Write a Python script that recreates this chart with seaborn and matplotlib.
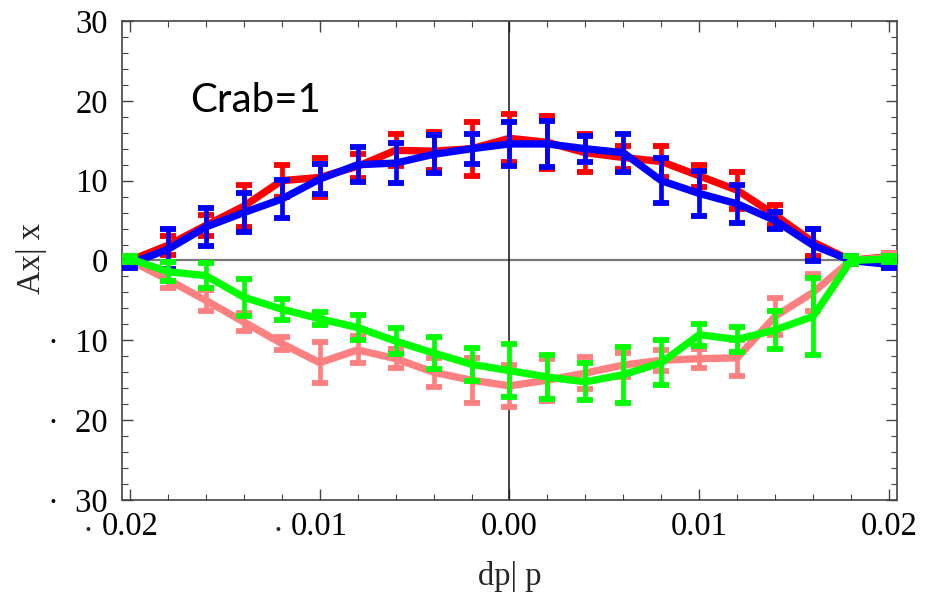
import numpy as np
import pandas as pd
import matplotlib
matplotlib.use("Agg")
import matplotlib.pyplot as plt
import seaborn as sns
from matplotlib.ticker import MultipleLocator, FixedLocator

# ---- data ----
dp = [-0.020, -0.018, -0.016, -0.014, -0.012, -0.010, -0.008, -0.006, -0.004, -0.002,
      0.000, 0.002, 0.004, 0.006, 0.008, 0.010, 0.012, 0.014, 0.016, 0.018, 0.020]

red_y = [0.0, 1.9, 4.4, 6.8, 10.0, 10.4, 11.8, 13.8, 13.7, 14.0, 15.3,
         14.8, 13.5, 12.9, 12.4, 10.6, 8.8, 5.7, 2.3, 0.0, 0.5]
red_err = [0.5, 1.2, 1.3, 2.6, 2.0, 2.4, 1.5, 2.0, 2.4, 3.4, 3.0,
           3.3, 2.4, 1.5, 2.0, 1.4, 2.3, 1.3, 1.7, 0.5, 0.5]

blue_y = [-0.4, 1.4, 4.2, 6.0, 7.7, 10.2, 12.0, 12.2, 13.3, 14.0, 14.6,
          14.6, 14.0, 13.5, 10.0, 8.4, 7.1, 5.0, 1.9, 0.0, -0.5]
blue_err = [0.5, 2.5, 2.4, 2.4, 2.4, 1.9, 2.2, 2.5, 2.4, 1.9, 2.8,
            2.9, 1.6, 2.4, 2.8, 2.8, 2.4, 1.1, 2.0, 0.5, 0.4]

pink_y = [0.0, -2.4, -5.0, -7.7, -10.4, -12.8, -11.2, -12.3, -14.0, -15.0, -15.7,
          -15.0, -14.1, -13.1, -12.5, -12.3, -12.2, -7.0, -4.0, 0.0, 0.4]
pink_err = [0.5, 1.0, 1.3, 1.1, 0.8, 2.6, 1.7, 1.2, 1.8, 2.8, 2.6,
            2.6, 2.0, 1.5, 1.3, 1.2, 2.3, 2.3, 2.3, 0.5, 0.5]

green_y = [0.2, -1.4, -1.9, -4.6, -6.1, -7.3, -8.4, -10.1, -11.6, -13.0, -13.8,
           -14.6, -15.2, -14.3, -12.8, -9.3, -9.9, -8.7, -7.0, 0.0, 0.2]
green_err = [0.4, 1.2, 1.6, 2.3, 1.3, 0.8, 1.6, 1.6, 2.0, 2.1, 3.3,
             2.8, 2.3, 3.5, 2.8, 1.4, 1.6, 2.4, 4.8, 0.5, 0.4]

x_ticks = [-0.02, -0.01, 0.0, 0.01, 0.02]
x_ticklabels = ["0.02", "0.01", "0.00", "0.01", "0.02"]
y_ticks = [-30, -20, -10, 0, 10, 20, 30]
y_ticklabels = ["·  30", "·  20", "·  10", "0", "10", "20", "30"]
annotation = "Crab=1"
xlabel = "dp| p"
ylabel = "Ax| x"

series = [
    ("red", red_y, red_err, "#ff0000"),
    ("pink", pink_y, pink_err, "#ff8080"),
    ("blue", blue_y, blue_err, "#0000ff"),
    ("green", green_y, green_err, "#00ff00"),
]

frames = []
for name, ys, errs, col in series:
    frames.append(pd.DataFrame({"dp": dp, "A": ys, "err": errs, "series": name}))
df = pd.concat(frames, ignore_index=True)

sns.set_theme(style="white")
plt.rcParams["font.family"] = ["Liberation Serif", "DejaVu Serif"]

fig = plt.figure(figsize=(9.27, 6.00), dpi=100)
ax = fig.add_axes([0.1316, 0.1667, 0.8360, 0.7983])

frame_col = "#444444"
ax.axhline(0, color="#777777", lw=1.6, zorder=1)
ax.axvline(0, color="#111111", lw=1.1, zorder=1)

for i, (name, ys, errs, col) in enumerate(series):
    sub = df[df["series"] == name]
    ax.errorbar(sub["dp"], sub["A"], yerr=sub["err"], fmt="none", ecolor=col,
                elinewidth=3.4, capsize=5.6, capthick=4.2, zorder=2 + 2 * i)
    sns.lineplot(data=sub, x="dp", y="A", color=col, lw=5.3, ax=ax,
                 legend=False, zorder=3 + 2 * i, errorbar=None, sort=False)

ax.set_xlim(-0.02042, 0.02042)
ax.set_ylim(-30, 30)

ax.xaxis.set_major_locator(FixedLocator(x_ticks))
ax.set_xticklabels(x_ticklabels)
ax.xaxis.set_minor_locator(MultipleLocator(0.002))
ax.yaxis.set_major_locator(FixedLocator(y_ticks))
ax.set_yticklabels(y_ticklabels)
ax.yaxis.set_minor_locator(MultipleLocator(2))

ax.tick_params(which="both", direction="in", top=True, right=True, bottom=True, left=True,
               color=frame_col, labelsize=23.5, labelcolor="black")
ax.tick_params(which="major", length=8, width=1.0)
ax.tick_params(which="minor", length=4, width=0.8)
ax.tick_params(axis="x", pad=8)
ax.tick_params(axis="y", pad=10)

for sp in ax.spines.values():
    sp.set_color(frame_col)
    sp.set_linewidth(1.2)
    sp.set_visible(True)

# hanging minus dots for negative x tick labels
for t in x_ticks:
    if t < 0:
        ax.annotate("·", xy=(t, 0), xycoords=("data", "axes fraction"),
                    xytext=(-30, -12), textcoords="offset points",
                    ha="center", va="top", fontsize=23.5)

ax.set_xlabel(xlabel, fontsize=23.5)
ax.set_ylabel(ylabel, fontsize=23.5)
ax.xaxis.set_label_coords(0.5, -0.128)
ax.yaxis.set_label_coords(-0.097, 0.504)

ax.text(0.088, 0.835, annotation, transform=ax.transAxes, fontsize=29,
        family=["Lato", "DejaVu Sans"], ha="left", va="center", color="black")

fig.savefig("out.png", dpi=100)
